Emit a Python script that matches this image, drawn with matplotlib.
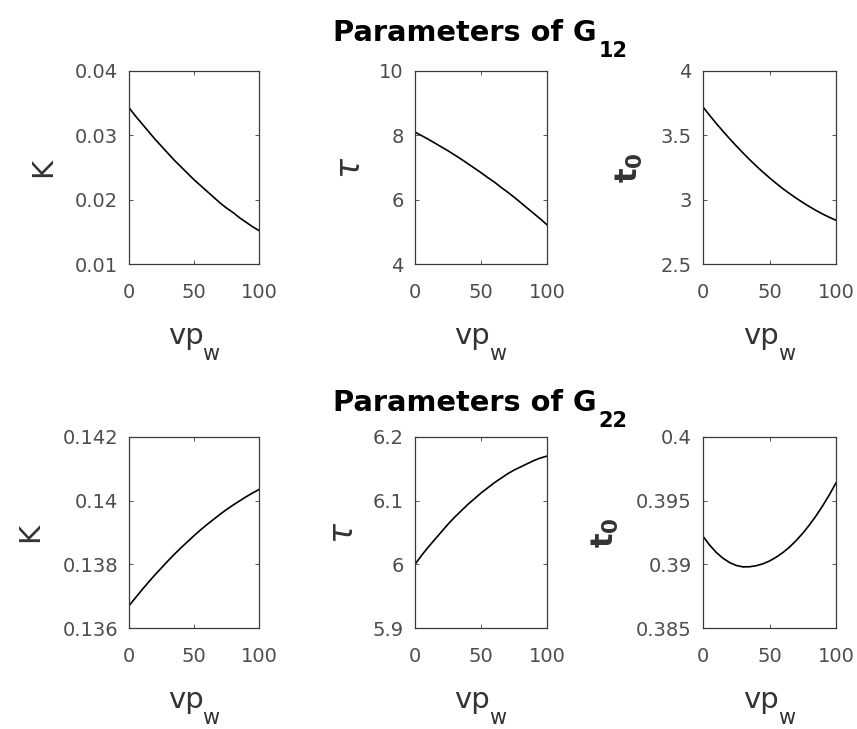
import matplotlib
matplotlib.use("Agg")
import matplotlib.pyplot as plt

plt.rcParams['font.family'] = ['DejaVu Sans']
plt.rcParams['mathtext.fontset'] = 'dejavusans'

vpw = [0, 5, 10, 15, 20, 25, 30, 35, 40, 45, 50, 55, 60, 65, 70, 75, 80, 85, 90, 95, 100]

K12 = [0.0343, 0.0330, 0.0318, 0.0306, 0.0294, 0.0283, 0.0272, 0.0261, 0.0251, 0.0241, 0.0231,
       0.0222, 0.0213, 0.0204, 0.0195, 0.0187, 0.0180, 0.0172, 0.0165, 0.0158, 0.0152]
tau12 = [8.10, 7.99, 7.88, 7.76, 7.64, 7.52, 7.39, 7.26, 7.12, 6.98, 6.84,
         6.69, 6.55, 6.39, 6.24, 6.08, 5.91, 5.74, 5.57, 5.40, 5.22]
t0_12 = [3.720, 3.655, 3.592, 3.532, 3.474, 3.418, 3.364, 3.312, 3.262, 3.215, 3.170,
         3.127, 3.086, 3.048, 3.012, 2.978, 2.946, 2.916, 2.888, 2.863, 2.840]

K22 = [0.13670, 0.13695, 0.13720, 0.13744, 0.13767, 0.13789, 0.13811, 0.13832, 0.13852, 0.13871, 0.13890,
       0.13908, 0.13925, 0.13941, 0.13957, 0.13972, 0.13986, 0.13999, 0.14012, 0.14024, 0.14035]
tau22 = [6.000, 6.014, 6.027, 6.039, 6.051, 6.063, 6.074, 6.084, 6.094, 6.103, 6.112,
         6.120, 6.128, 6.135, 6.142, 6.148, 6.153, 6.158, 6.163, 6.167, 6.170]
t0_22 = [0.39220, 0.39151, 0.39093, 0.39048, 0.39014, 0.38991, 0.38980, 0.38981, 0.38989, 0.39004, 0.39026,
         0.39056, 0.39092, 0.39135, 0.39186, 0.39244, 0.39309, 0.39381, 0.39460, 0.39546, 0.39640]

ylabels = ['K', r'$\tau$', r'$\mathbf{t_0}$']
title_main = 'Parameters of G'
title_subs = ['12', '22']

rows = [
    dict(data=[K12, tau12, t0_12],
         ylims=[(0.01, 0.04), (4, 10), (2.5, 4)],
         yticks=[[0.01, 0.02, 0.03, 0.04], [4, 6, 8, 10], [2.5, 3, 3.5, 4]],
         yticklabels=[['0.01', '0.02', '0.03', '0.04'], ['4', '6', '8', '10'], ['2.5', '3', '3.5', '4']]),
    dict(data=[K22, tau22, t0_22],
         ylims=[(0.136, 0.142), (5.9, 6.2), (0.385, 0.4)],
         yticks=[[0.136, 0.138, 0.14, 0.142], [5.9, 6.0, 6.1, 6.2], [0.385, 0.39, 0.395, 0.4]],
         yticklabels=[['0.136', '0.138', '0.14', '0.142'], ['5.9', '6', '6.1', '6.2'], ['0.385', '0.39', '0.395', '0.4']]),
]

W, H = 857, 729
fig = plt.figure(figsize=(W / 100, H / 100), dpi=100)

lefts = [129, 415, 703]
widths = [130, 132, 133]
tops = [71, 437]
heights = [193, 191]
title_base = [41, 411]

grey = '#3a3a3a'
label_col = '#333333'
tick_col = '#4d4d4d'
ylabel_sizes = [21, 24, 22]
ylabel_pads = [13, 9, 11]

for r, row in enumerate(rows):
    for c in range(3):
        ax = fig.add_axes([lefts[c] / W, 1 - (tops[r] + heights[r]) / H, widths[c] / W, heights[r] / H])
        ax.plot(vpw, row['data'][c], color='black', lw=1.2)
        ax.set_xlim(0, 100)
        ax.set_ylim(*row['ylims'][c])
        ax.set_xticks([0, 50, 100])
        ax.set_xticklabels(['0', '50', '100'])
        ax.set_yticks(row['yticks'][c])
        ax.set_yticklabels(row['yticklabels'][c])
        ax.tick_params(direction='in', top=True, right=True, length=3, width=0.6,
                       colors=grey, labelsize=14, labelcolor=tick_col)
        ax.tick_params(axis='x', pad=14)
        ax.tick_params(axis='y', pad=8)
        for s in ax.spines.values():
            s.set_color(grey)
            s.set_linewidth(0.9)
        ax.set_xlabel('vp', fontsize=21, color=label_col, labelpad=14)
        ax.xaxis.label.set_x(0.435)
        ax.annotate('w', xy=(1, 0), xycoords=ax.xaxis.label, xytext=(-1, -10),
                    textcoords='offset pixels', fontsize=15, color=label_col,
                    ha='left', va='baseline', annotation_clip=False)
        ax.set_ylabel(ylabels[c], fontsize=ylabel_sizes[c], color=label_col, labelpad=ylabel_pads[c])

    t = fig.text(333 / W, 1 - title_base[r] / H, title_main, fontsize=20.8, fontweight='bold',
                 ha='left', va='baseline', color='black')
    ax.annotate(title_subs[r], xy=(1, 0), xycoords=t, xytext=(2, 6),
                textcoords='offset pixels', fontsize=15, fontweight='bold',
                ha='left', va='top', color='black', annotation_clip=False)

fig.savefig('out.png', dpi=100)
